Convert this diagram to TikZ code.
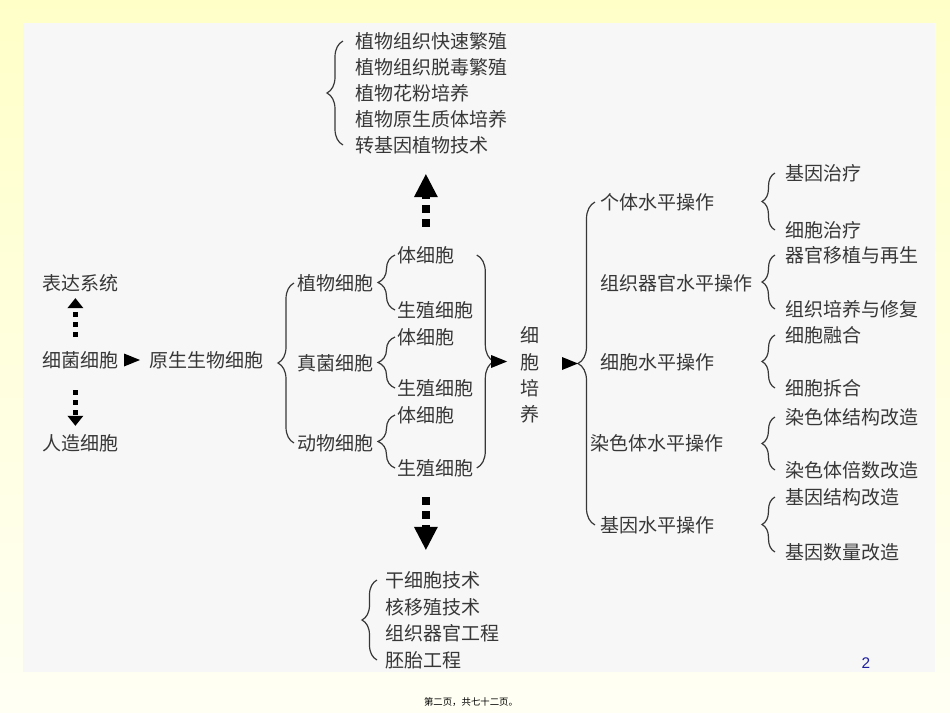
\documentclass[tikz,border=0pt]{standalone}
\usepackage{fontspec}
\newfontfamily\cjk{Noto Sans CJK SC}
\newfontfamily\pgfont{Liberation Sans}
\usetikzlibrary{arrows.meta,decorations.pathreplacing,calc}

\definecolor{slideyellow}{RGB}{255,255,200}
\definecolor{slidepale}{RGB}{255,255,244}
\definecolor{panelgray}{RGB}{247,247,247}
\definecolor{inkgray}{RGB}{55,55,55}
\definecolor{pageblue}{RGB}{30,30,160}

\tikzset{
	lbl/.style={anchor=west, inner sep=0pt, text=inkgray, font=\cjk\fontsize{9.5}{13.2}\selectfont},
	brc/.style={draw=inkgray, line width=0.6pt, decorate, decoration={brace, amplitude=#1}},
	brc/.default=6.5pt,
	tri/.style={-{Triangle[length=8pt, width=6.5pt, line width=0pt]}, line width=0.1pt, black},
	sdarr/.style={-{Triangle[length=5pt, width=8pt, line width=0pt]}, line width=2.5pt, dash pattern=on 2.5pt off 2.5pt, black},
	bdarr/.style={-{Triangle[length=11.5pt, width=12pt, line width=0pt]}, line width=4pt, dash pattern=on 4pt off 3pt, black}
}

\begin{document}
\begin{tikzpicture}[x=0.5pt, y=-0.5pt]
	\useasboundingbox (0,0) rectangle (950,713);
	\shade[top color=slideyellow, bottom color=slidepale] (0,0) rectangle (950,713);
	\fill[panelgray] (23,23) rectangle (935,672);

	% prokaryote side
	\node[lbl] (exp) at (42,283) {表达系统};
	\node[lbl] (bac) at (42,360) {细菌细胞};
	\node[lbl] (art) at (42,443) {人造细胞};
	\node[lbl] (pro) at (149,360) {原生生物细胞};
	\draw[tri, shorten <=3pt, shorten >=4.5pt] (bac.east) -- (pro.west);
	\draw[sdarr, shorten <=7pt, shorten >=3pt] ([xshift=-2.5pt]bac.north) -- ([xshift=-2.5pt]exp.south);
	\draw[sdarr, shorten <=10.5pt, shorten >=4pt] ([xshift=-2.5pt]bac.south) -- ([xshift=-2.5pt]art.north);

	% eukaryotes
	\node[lbl] (plant) at (297,283) {植物细胞};
	\node[lbl] (fungi) at (297,363) {真菌细胞};
	\node[lbl] (animal) at (297,443) {动物细胞};
	\node[lbl] (p1) at (397,255) {体细胞};
	\node[lbl] (p2) at (397,310) {生殖细胞};
	\node[lbl] (f1) at (397,337) {体细胞};
	\node[lbl] (f2) at (397,388) {生殖细胞};
	\node[lbl] (a1) at (397,415) {体细胞};
	\node[lbl] (a2) at (397,468) {生殖细胞};
	\draw[brc=8pt] ([xshift=-1.5pt]animal.west) -- ([xshift=-1.5pt]plant.west);
	\draw[brc=8.5pt] ([xshift=-1pt]p2.west) -- ([xshift=-1pt]p1.west);
	\draw[brc=8.5pt] ([xshift=-1pt]f2.west) -- ([xshift=-1pt]f1.west);
	\draw[brc=8.5pt] ([xshift=-1pt]a2.west) -- ([xshift=-1pt]a1.west);
	\coordinate (rtop) at (a2.east |- p1.west);
	\coordinate (rbot) at (a2.east);
	\draw[brc=8.5pt] ([xshift=1.5pt]rtop) -- ([xshift=1.5pt]rbot);
	\coordinate (rtip) at ($(rtop)!0.5!(rbot)+(20,0)$);

	% plant techniques
	\node[lbl] (t1) at (355,41) {植物组织快速繁殖};
	\node[lbl] (t2) at (355,67) {植物组织脱毒繁殖};
	\node[lbl] (t3) at (355,93) {植物花粉培养};
	\node[lbl] (t4) at (355,119) {植物原生质体培养};
	\node[lbl] (t5) at (355,145) {转基因植物技术};
	\draw[brc=8pt] ([xshift=-6pt]t5.west) -- ([xshift=-6pt]t1.west);
	\draw[bdarr, shorten <=9.5pt, shorten >=10pt] (p1.north) -- (p1.north |- t5.south);

	% animal techniques
	\node[lbl] (b1) at (385,580) {干细胞技术};
	\node[lbl] (b2) at (385,607) {核移殖技术};
	\node[lbl] (b3) at (385,633) {组织器官工程};
	\node[lbl] (b4) at (385,660) {胚胎工程};
	\draw[brc=7.5pt] ([xshift=-4pt]b4.west) -- ([xshift=-4pt]b1.west);
	\draw[bdarr, shorten <=10pt, shorten >=10.5pt] (p1.south |- a2.south) -- (p1.south |- b1.north);

	% cell culture
	\node[lbl, anchor=center, align=center] (cul) at (530,375) {细\\胞\\培\\养};
	\draw[tri, shorten >=6.5pt] (rtip) -- (rtip -| cul.west);

	% levels
	\node[lbl] (lv1) at (600,202) {个体水平操作};
	\node[lbl] (lv2) at (600,283) {组织器官水平操作};
	\node[lbl] (lv3) at (600,362) {细胞水平操作};
	\node[lbl] (lv4) at (590,443) {染色体水平操作};
	\node[lbl] (lv5) at (600,525) {基因水平操作};
	\draw[brc=8.5pt] ([xshift=-2.5pt]lv5.west) -- ([xshift=-2.5pt]lv1.west);
	\coordinate (lvtip) at ($(lv1.west)!0.5!(lv5.west)+(-22,0)$);
	\draw[tri, shorten <=12pt] (cul.east |- lvtip) -- (lvtip);

	% applications
	\node[lbl] (g1) at (785,173) {基因治疗};
	\node[lbl] (g2) at (785,230) {细胞治疗};
	\node[lbl] (o1) at (785,255) {器官移植与再生};
	\node[lbl] (o2) at (785,309) {组织培养与修复};
	\node[lbl] (c1) at (785,335) {细胞融合};
	\node[lbl] (c2) at (785,388) {细胞拆合};
	\node[lbl] (k1) at (785,417) {染色体结构改造};
	\node[lbl] (k2) at (785,470) {染色体倍数改造};
	\node[lbl] (d1) at (785,497) {基因结构改造};
	\node[lbl] (d2) at (785,552) {基因数量改造};
	\draw[brc] ([xshift=-5pt]g2.west) -- ([xshift=-5pt]g1.west);
	\draw[brc] ([xshift=-5pt]o2.west) -- ([xshift=-5pt]o1.west);
	\draw[brc] ([xshift=-5pt]c2.west) -- ([xshift=-5pt]c1.west);
	\draw[brc] ([xshift=-5pt]k2.west) -- ([xshift=-5pt]k1.west);
	\draw[brc] ([xshift=-5pt]d2.west) -- ([xshift=-5pt]d1.west);

	% page marks
	\node[inner sep=0pt, text=pageblue, font=\pgfont\fontsize{7.7}{9}\selectfont] (pg) at (866,663) {2};
	\node[inner sep=0pt, text=black, font=\cjk\fontsize{4.7}{6}\selectfont] (foot) at (471,702) {第二页，共七十二页。};
\end{tikzpicture}
\end{document}
